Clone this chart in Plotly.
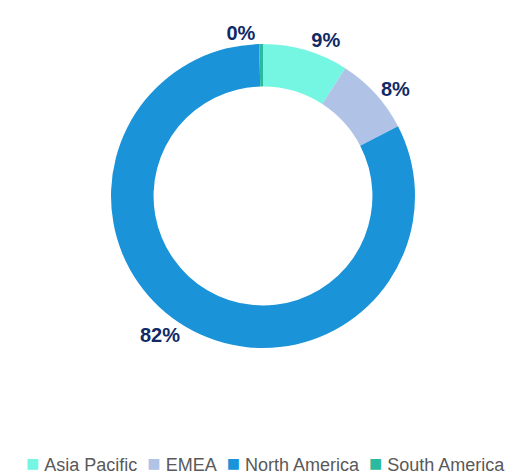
import plotly.graph_objects as go

regions = ["Asia Pacific", "EMEA", "North America", "South America"]
shares = [9.1, 8.3, 82.2, 0.4]
colors = ["#74F6E2", "#B0C3E6", "#1A93D9", "#2BBA9F"]

W, H = 516, 475
cx, cy, r = 263, 196, 152

label_font = dict(family="Liberation Sans", size=20, color="#112A66", weight="bold")

fig = go.Figure(
    go.Pie(
        labels=regions,
        values=shares,
        hole=0.72,
        sort=False,
        direction="clockwise",
        rotation=0,
        marker=dict(colors=colors, line=dict(width=0)),
        texttemplate="%{percent:.0%}",
        textposition="outside",
        textfont=label_font,
        outsidetextfont=label_font,
        domain=dict(
            x=[(cx - r) / W, (cx + r) / W],
            y=[1 - (cy + r) / H, 1 - (cy - r) / H],
        ),
        hoverinfo="label+percent",
        showlegend=False,
    )
)

# Legend row: coloured square followed by the region name
legend_text = "\u00a0 ".join(
    f"<span style='color:{c};font-size:22px'>\u25a0</span>\u00a0{name}"
    for name, c in zip(regions, colors)
)
fig.add_annotation(
    x=265 / W,
    y=1 - 463 / H,
    xref="paper",
    yref="paper",
    xanchor="center",
    yanchor="middle",
    showarrow=False,
    text=legend_text,
    font=dict(family="Liberation Sans", size=18, color="#595959"),
)

fig.update_layout(
    width=W,
    height=H,
    margin=dict(l=0, r=0, t=0, b=0),
    paper_bgcolor="white",
    plot_bgcolor="white",
)

fig.write_html("out.html")
